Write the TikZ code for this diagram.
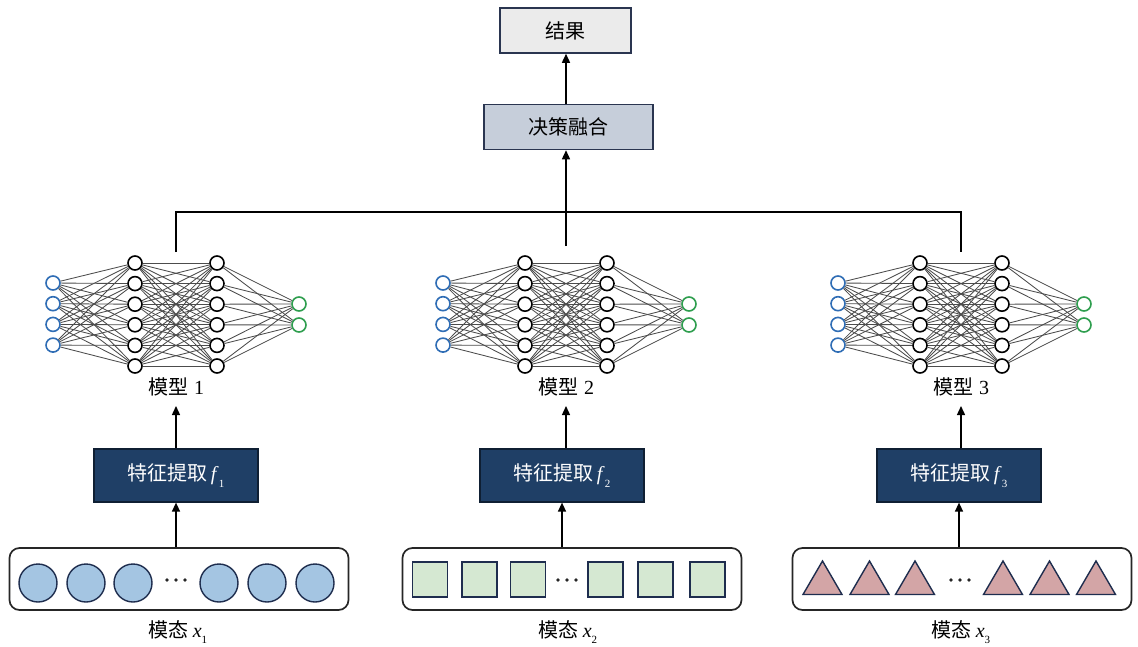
\documentclass[tikz,border=0pt]{standalone}
\usepackage{fontspec}
\setmainfont{Liberation Serif}
\newfontfamily\cjk{Noto Sans CJK SC}
\usetikzlibrary{arrows.meta,calc}
\definecolor{navy}{HTML}{1F3F66}
\definecolor{navyline}{HTML}{0F1F33}
\definecolor{boxline}{HTML}{2A3550}
\definecolor{resfill}{HTML}{EBEBEB}
\definecolor{fusefill}{HTML}{C6CEDA}
\definecolor{inblue}{HTML}{2F6DB5}
\definecolor{outgreen}{HTML}{2E9E4E}
\definecolor{cfill}{HTML}{A4C5E2}
\definecolor{sfill}{HTML}{D5E8D2}
\definecolor{tfill}{HTML}{D3A5A6}
\definecolor{shapeline}{HTML}{1E2D4E}
\newcommand\subs[1]{\raisebox{-0.32em}{\fontsize{11}{11}\selectfont #1}}
\tikzset{
  txt/.style={font=\fontsize{20}{24}\selectfont, inner sep=0pt},
  topbox/.style={draw=boxline, line width=1.5pt, minimum height=45pt, font=\fontsize{20}{24}\selectfont\cjk},
  febox/.style={draw=navyline, line width=1.2pt, fill=navy, text=white, minimum width=164pt, minimum height=53pt, font=\fontsize{20}{24}\selectfont},
  inbox/.style={draw=black!85, line width=1.7pt, rounded corners=10pt, minimum width=339pt, minimum height=62pt},
  arr/.style={line width=1.4pt, -{Triangle[length=9pt,width=8pt]}},
  conn/.style={line width=1.4pt},
  wire/.style={draw=black!70, line width=0.85pt},
  neu/.style={circle, draw=black, line width=1.6pt, fill=white, minimum size=14pt, inner sep=0pt},
  inn/.style={neu, draw=inblue},
  outn/.style={neu, draw=outgreen},
  circ/.style={circle, draw=shapeline, line width=1.4pt, fill=cfill, minimum size=38pt, inner sep=0pt},
  sq/.style={draw=shapeline, line width=1.4pt, fill=sfill, minimum size=35pt, inner sep=0pt},
  tri/.style={draw=shapeline, line width=1.4pt, fill=tfill, line join=miter},
  dot/.style={circle, fill=black!85, minimum size=3.8pt, inner sep=0pt},
}
\newcommand\mynet[2]{%
  \foreach \k in {1,...,4} \node[inn] (#1a\k) at ({#2-123},{283+20.7*(\k-1)}) {};
  \foreach \k in {1,...,6} \node[neu] (#1b\k) at ({#2-41},{263+20.6*(\k-1)}) {};
  \foreach \k in {1,...,6} \node[neu] (#1c\k) at ({#2+41},{263+20.6*(\k-1)}) {};
  \foreach \k in {1,2} \node[outn] (#1d\k) at ({#2+123},{304+21*(\k-1)}) {};
  \foreach \p in {1,...,4} \foreach \q in {1,...,6} \draw[wire] (#1a\p) -- (#1b\q);
  \foreach \p in {1,...,6} \foreach \q in {1,...,6} \draw[wire] (#1b\p) -- (#1c\q);
  \foreach \p in {1,...,6} \foreach \q in {1,2} \draw[wire] (#1c\p) -- (#1d\q);
}
\newcommand\threedots[2]{%
  \node[dot] (#1p1) at ({#2-9},580) {};
  \node[dot] (#1p2) at ({#2},580) {};
  \node[dot] (#1p3) at ({#2+9},580) {};
}
\newcommand\mytri[2]{%
  \draw[tri] ({#1-19.5},594.5) -- ({#1},561) -- ({#1+19.5},594.5) -- cycle;
  \coordinate (#2) at (#1,580);
}
\begin{document}
\begin{tikzpicture}[x=1pt,y=-1pt]
\useasboundingbox (0,0) rectangle (1138,646);
% top
\node[topbox, fill=resfill, minimum width=131pt] (res) at (565.5,30.5) {结果};
\node[topbox, fill=fusefill, minimum width=169pt] (fuse) at (568.5,127) {决策融合};
\draw[arr] (fuse.north -| 566,0) -- (res.south -| 566,0);
% networks
\mynet{A}{176}
\mynet{B}{566}
\mynet{C}{961}
% fusion lines
\coordinate (t1) at (176,252);
\coordinate (t2) at (566,246);
\coordinate (t3) at (961,252);
\coordinate (j1) at (176,212);
\coordinate (j3) at (961,212);
\draw[conn] (t1) -- (j1) -- (j3) -- (t3);
\draw[arr] (t2) -- (t2 |- fuse.south);
% model labels
\node[txt] (m1) at (176,387) {{\cjk 模型}\hspace{6pt}1};
\node[txt] (m2) at (566,387) {{\cjk 模型}\hspace{6pt}2};
\node[txt] (m3) at (961,387) {{\cjk 模型}\hspace{6pt}3};
% feature boxes
\node[febox] (f1) at (176,475.5) {{\cjk 特征提取}\,\textit{f}\subs{1}};
\node[febox] (f2) at (562,475.5) {{\cjk 特征提取}\,\textit{f}\subs{2}};
\node[febox] (f3) at (959,475.5) {{\cjk 特征提取}\,\textit{f}\subs{3}};
\draw[arr] (f1.north) -- (m1.south |- 0,406);
\draw[arr] (f2.north -| m2) -- (m2.south |- 0,406);
\draw[arr] (f3.north -| m3) -- (m3.south |- 0,406);
% input boxes
\node[inbox] (i1) at (179,579) {};
\node[inbox] (i2) at (572,579) {};
\node[inbox] (i3) at (962,579) {};
\draw[arr] (i1.north -| f1) -- (f1.south);
\draw[arr] (i2.north -| f2) -- (f2.south);
\draw[arr] (i3.north -| f3) -- (f3.south);
% circles
\foreach \x [count=\n] in {38,86,133,219,267,315} \node[circ] (c\n) at (\x,583) {};
\threedots{A}{176}
% squares
\foreach \x [count=\n] in {430,479.5,528,605.5,655.5,707.5} \node[sq] (s\n) at (\x,579.5) {};
\threedots{B}{567}
% triangles
\mytri{822.5}{tr1}
\mytri{869.5}{tr2}
\mytri{915}{tr3}
\mytri{1003}{tr4}
\mytri{1049.5}{tr5}
\mytri{1096}{tr6}
\threedots{C}{960}
% modality labels
\node[txt] (l1) at (178,632) {{\cjk 模态}\hspace{4pt}\textit{x}\subs{1}};
\node[txt] (l2) at (568,632) {{\cjk 模态}\hspace{4pt}\textit{x}\subs{2}};
\node[txt] (l3) at (961,632) {{\cjk 模态}\hspace{4pt}\textit{x}\subs{3}};
\end{tikzpicture}
\end{document}
